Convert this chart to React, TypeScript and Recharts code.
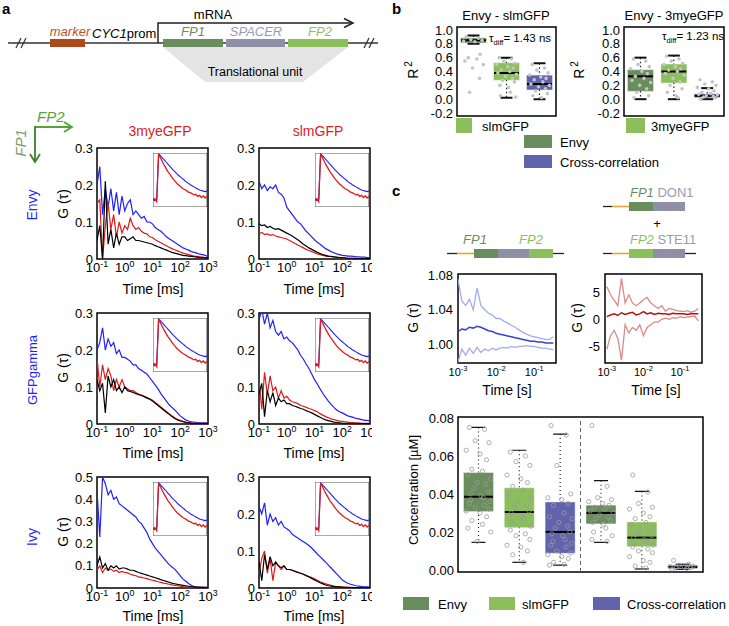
import React from 'react';
import {
  LineChart, Line, ComposedChart, Bar, Scatter, XAxis, YAxis, ReferenceArea, ReferenceLine,
} from 'recharts';

const FONT = '"Liberation Sans", Arial, Helvetica, sans-serif';

const ENVY = '#6a8d5d';
const SLM = '#8bbf5b';
const CROSS = '#6263ad';
const SPACER = '#8f8fa6';
const BLUE = '#1f1fff';
const RED = '#de1a1a';

// ---- panel a: FCS curves, x = log10(time / ms) ----
const TAU_LOG = [
  -1, -0.9, -0.8, -0.7, -0.6, -0.5, -0.4, -0.3, -0.2, -0.1,
  0, 0.1, 0.2, 0.3, 0.4, 0.5, 0.6, 0.7, 0.8, 0.9,
  1, 1.1, 1.2, 1.3, 1.4, 1.5, 1.6, 1.7, 1.8, 1.9,
  2, 2.1, 2.2, 2.3, 2.4, 2.5, 2.6, 2.7, 2.8, 2.9, 3,
];

// Envy x 3myeGFP
const ENVY_3MYE_BLUE = [0.20, 0.25, 0.12, 0.19, 0.14, 0.19, 0.13, 0.18, 0.12, 0.17, 0.13, 0.15, 0.16, 0.12, 0.13, 0.12, 0.11, 0.115, 0.10, 0.10, 0.095, 0.085, 0.08, 0.075, 0.068, 0.06, 0.055, 0.05, 0.045, 0.04, 0.035, 0.03, 0.027, 0.024, 0.02, 0.018, 0.016, 0.013, 0.012, 0.01, 0.006];
const ENVY_3MYE_RED = [0.15, 0.16, 0.0, 0.09, 0.15, 0.08, 0.12, 0.06, 0.10, 0.07, 0.09, 0.08, 0.11, 0.09, 0.08, 0.085, 0.075, 0.07, 0.068, 0.06, 0.058, 0.052, 0.048, 0.044, 0.04, 0.036, 0.032, 0.028, 0.025, 0.022, 0.019, 0.016, 0.014, 0.012, 0.01, 0.008, 0.007, 0.006, 0.005, 0.004, 0.003];
const ENVY_3MYE_BLACK = [0.05, 0.09, 0.0, 0.21, 0.04, 0.08, 0.03, 0.07, 0.04, 0.06, 0.06, 0.05, 0.055, 0.06, 0.05, 0.05, 0.048, 0.046, 0.044, 0.042, 0.04, 0.036, 0.033, 0.03, 0.027, 0.024, 0.021, 0.018, 0.016, 0.014, 0.012, 0.01, 0.009, 0.008, 0.007, 0.006, 0.005, 0.004, 0.004, 0.003, 0.003];

// Envy x slmGFP
const ENVY_SLM_BLUE = [0.21, 0.19, 0.20, 0.185, 0.195, 0.19, 0.20, 0.18, 0.175, 0.165, 0.14, 0.13, 0.12, 0.11, 0.10, 0.095, 0.085, 0.075, 0.068, 0.06, 0.052, 0.045, 0.04, 0.034, 0.028, 0.024, 0.02, 0.017, 0.014, 0.012, 0.01, 0.009, 0.008, 0.008, 0.007, 0.006, 0.006, 0.005, 0.005, 0.004, 0.004];
const ENVY_SLM_RED = [0.068, 0.072, 0.066, 0.068, 0.064, 0.066, 0.062, 0.06, 0.058, 0.056, 0.054, 0.05, 0.046, 0.042, 0.038, 0.034, 0.03, 0.026, 0.023, 0.02, 0.017, 0.014, 0.012, 0.01, 0.008, 0.007, 0.006, 0.005, 0.004, 0.003, 0.003, 0.002, 0.002, 0.002, 0.001, 0.001, 0.001, 0.001, 0.001, 0.001, 0.001];
const ENVY_SLM_BLACK = [0.095, 0.09, 0.092, 0.085, 0.088, 0.083, 0.08, 0.082, 0.078, 0.074, 0.07, 0.066, 0.062, 0.057, 0.052, 0.046, 0.04, 0.035, 0.03, 0.026, 0.022, 0.018, 0.015, 0.012, 0.01, 0.008, 0.007, 0.006, 0.005, 0.004, 0.003, 0.003, 0.002, 0.002, 0.002, 0.001, 0.001, 0.001, 0.001, 0.001, 0.001];

// GFPgamma x 3myeGFP
const GAMMA_3MYE_BLUE = [0.20, 0.22, 0.26, 0.2, 0.23, 0.21, 0.22, 0.19, 0.2, 0.18, 0.18, 0.175, 0.17, 0.16, 0.16, 0.15, 0.145, 0.14, 0.135, 0.125, 0.115, 0.105, 0.095, 0.082, 0.072, 0.062, 0.052, 0.045, 0.038, 0.03, 0.022, 0.016, 0.011, 0.008, 0.006, 0.005, 0.004, 0.003, 0.003, 0.003, 0.003];
const GAMMA_3MYE_RED = [0.18, 0.1, 0.16, 0.12, 0.15, 0.13, 0.09, 0.12, 0.1, 0.12, 0.1, 0.095, 0.09, 0.09, 0.085, 0.08, 0.078, 0.075, 0.072, 0.068, 0.064, 0.058, 0.052, 0.046, 0.04, 0.034, 0.028, 0.022, 0.017, 0.013, 0.01, 0.007, 0.005, 0.004, 0.003, 0.002, 0.002, 0.002, 0.002, 0.002, 0.002];
const GAMMA_3MYE_BLACK = [0.12, 0.09, 0.11, 0.03, 0.13, 0.1, 0.12, 0.09, 0.1, 0.085, 0.1, 0.09, 0.088, 0.085, 0.082, 0.08, 0.077, 0.074, 0.07, 0.067, 0.062, 0.056, 0.05, 0.044, 0.038, 0.032, 0.026, 0.02, 0.015, 0.011, 0.008, 0.006, 0.004, 0.003, 0.002, 0.001, 0.001, 0.001, 0.001, 0.001, 0.001];

// GFPgamma x slmGFP
const GAMMA_SLM_BLUE = [0.28, 0.31, 0.27, 0.3, 0.26, 0.28, 0.25, 0.24, 0.25, 0.23, 0.235, 0.225, 0.22, 0.21, 0.2, 0.185, 0.175, 0.162, 0.15, 0.135, 0.12, 0.108, 0.095, 0.083, 0.072, 0.062, 0.053, 0.045, 0.038, 0.033, 0.03, 0.026, 0.022, 0.02, 0.018, 0.015, 0.014, 0.012, 0.01, 0.01, 0.008];
const GAMMA_SLM_RED = [0.12, 0.04, 0.14, 0.08, 0.13, 0.09, 0.1, 0.07, 0.09, 0.07, 0.075, 0.065, 0.06, 0.058, 0.055, 0.05, 0.048, 0.045, 0.042, 0.04, 0.036, 0.033, 0.028, 0.024, 0.02, 0.017, 0.014, 0.012, 0.01, 0.008, 0.007, 0.006, 0.005, 0.004, 0.004, 0.003, 0.003, 0.002, 0.002, 0.002, 0.002];
const GAMMA_SLM_BLACK = [0.08, 0.11, 0.02, 0.09, 0.06, 0.085, 0.05, 0.07, 0.06, 0.065, 0.055, 0.055, 0.05, 0.048, 0.045, 0.042, 0.04, 0.036, 0.033, 0.03, 0.026, 0.022, 0.018, 0.014, 0.011, 0.009, 0.007, 0.005, 0.004, 0.003, 0.002, 0.002, 0.002, 0.001, 0.001, 0.001, 0.001, 0.001, 0.001, 0.001, 0.001];

// Ivy x 3myeGFP
const IVY_3MYE_BLUE = [0.44, 0.23, 0.5, 0.47, 0.42, 0.44, 0.4, 0.41, 0.38, 0.37, 0.36, 0.35, 0.34, 0.33, 0.32, 0.3, 0.29, 0.27, 0.25, 0.22, 0.2, 0.18, 0.165, 0.15, 0.135, 0.12, 0.105, 0.095, 0.085, 0.07, 0.055, 0.04, 0.03, 0.02, 0.012, 0.005, 0.004, 0.003, 0.003, 0.003, 0.003];
const IVY_3MYE_RED = [0.08, 0.1, 0.07, 0.09, 0.08, 0.085, 0.075, 0.08, 0.07, 0.075, 0.07, 0.068, 0.062, 0.058, 0.055, 0.05, 0.048, 0.045, 0.042, 0.038, 0.035, 0.032, 0.028, 0.025, 0.022, 0.02, 0.017, 0.014, 0.012, 0.01, 0.008, 0.006, 0.005, 0.004, 0.003, 0.003, 0.003, 0.003, 0.003, 0.003, 0.003];
const IVY_3MYE_BLACK = [0.1, 0.14, 0.09, 0.11, 0.08, 0.1, 0.09, 0.1, 0.085, 0.09, 0.09, 0.085, 0.08, 0.08, 0.075, 0.07, 0.066, 0.062, 0.058, 0.054, 0.05, 0.046, 0.042, 0.038, 0.034, 0.03, 0.026, 0.022, 0.019, 0.016, 0.014, 0.012, 0.01, 0.008, 0.006, 0.005, 0.004, 0.003, 0.003, 0.002, 0.002];

// Ivy x slmGFP
const IVY_SLM_BLUE = [0.22, 0.2, 0.23, 0.17, 0.2, 0.18, 0.19, 0.17, 0.18, 0.165, 0.16, 0.155, 0.145, 0.14, 0.135, 0.13, 0.125, 0.12, 0.115, 0.108, 0.1, 0.092, 0.085, 0.077, 0.07, 0.062, 0.054, 0.046, 0.038, 0.03, 0.022, 0.017, 0.013, 0.01, 0.008, 0.006, 0.005, 0.004, 0.003, 0.003, 0.003];
const IVY_SLM_RED = [0.04, 0.08, 0.1, 0.04, 0.08, 0.02, 0.07, 0.06, 0.05, 0.06, 0.05, 0.05, 0.048, 0.045, 0.043, 0.04, 0.037, 0.034, 0.031, 0.028, 0.025, 0.021, 0.017, 0.014, 0.011, 0.009, 0.007, 0.005, 0.004, 0.003, 0.003, 0.002, 0.002, 0.002, 0.001, 0.001, 0.001, 0.001, 0.001, 0.001, 0.001];
const IVY_SLM_BLACK = [0.07, 0.02, 0.09, 0.05, 0.085, 0.06, 0.07, 0.06, 0.055, 0.06, 0.05, 0.05, 0.048, 0.045, 0.042, 0.04, 0.037, 0.033, 0.03, 0.026, 0.022, 0.018, 0.014, 0.011, 0.008, 0.006, 0.005, 0.004, 0.003, 0.003, 0.002, 0.002, 0.002, 0.001, 0.001, 0.001, 0.001, 0.001, 0.001, 0.001, 0.001];

// insets: normalised lifetime decays
const INSET_T = [0, 1, 2, 3, 4, 5, 6, 7, 8, 9, 10, 11, 12, 13, 14, 15, 16, 17, 18, 19, 20, 21, 22, 23, 24, 25, 26, 27, 28, 29];
const INSET_BLUE = [0.16, 0.12, 0.15, 1.0, 0.97, 0.93, 0.89, 0.85, 0.81, 0.77, 0.73, 0.69, 0.66, 0.62, 0.59, 0.56, 0.53, 0.5, 0.47, 0.45, 0.42, 0.4, 0.38, 0.36, 0.34, 0.32, 0.31, 0.3, 0.29, 0.3];
const INSET_RED = [0.12, 0.16, 0.1, 1.0, 0.93, 0.86, 0.79, 0.73, 0.67, 0.62, 0.57, 0.52, 0.48, 0.44, 0.41, 0.38, 0.35, 0.33, 0.31, 0.28, 0.27, 0.25, 0.23, 0.24, 0.2, 0.22, 0.18, 0.21, 0.17, 0.2];

// ---- panel b: R^2 box plots ----
const B_NAMES = ['Envy', 'FP2', 'Cross-correlation'];
const B_SLM_STATS = { lo: [0.80, 0.02, 0.0], q1: [0.82, 0.28, 0.14], med: [0.85, 0.38, 0.22], q3: [0.88, 0.52, 0.34], hi: [0.92, 0.6, 0.52] };
const B_3MYE_STATS = { lo: [0.0, 0.0, 0.0], q1: [0.12, 0.24, 0.03], med: [0.33, 0.4, 0.05], q3: [0.42, 0.5, 0.07], hi: [0.6, 0.63, 0.16] };
const B_SLM_POINTS = [
  [0.9, 0.88, 0.86, 0.85, 0.84, 0.83, 0.65, 0.6, 0.58, 0.55, 0.5, 0.45, 0.3, 0.1],
  [0.6, 0.58, 0.55, 0.52, 0.5, 0.47, 0.45, 0.42, 0.4, 0.38, 0.36, 0.33, 0.3, 0.27, 0.25, 0.2, 0.17, 0.1, 0.05, 0.03],
  [0.5, 0.45, 0.42, 0.38, 0.35, 0.32, 0.3, 0.28, 0.25, 0.22, 0.2, 0.18, 0.15, 0.12, 0.08, 0.05, 0.02],
];
const B_3MYE_POINTS = [
  [0.58, 0.55, 0.5, 0.47, 0.44, 0.4, 0.37, 0.33, 0.3, 0.27, 0.24, 0.2, 0.15, 0.1, 0.05, 0.02],
  [0.62, 0.58, 0.55, 0.52, 0.5, 0.47, 0.44, 0.42, 0.4, 0.37, 0.35, 0.3, 0.25, 0.2, 0.15, 0.1, 0.05, 0.02],
  [0.28, 0.25, 0.22, 0.2, 0.17, 0.15, 0.12, 0.1, 0.08, 0.07, 0.06, 0.05, 0.04, 0.03, 0.02, 0.0],
];

// ---- panel c: FCCS curves, x = log10(time / s) ----
const C_T = [-3, -2.9, -2.8, -2.7, -2.6, -2.5, -2.4, -2.3, -2.2, -2.1, -2, -1.9, -1.8, -1.7, -1.6, -1.5, -1.4, -1.3, -1.2, -1.1, -1, -0.9, -0.8, -0.7, -0.6, -0.5];
const C_FUSION_HI = [1.075, 1.05, 1.045, 1.052, 1.04, 1.065, 1.045, 1.04, 1.036, 1.034, 1.03, 1.03, 1.027, 1.025, 1.022, 1.02, 1.017, 1.014, 1.012, 1.01, 1.009, 1.008, 1.007, 1.006, 1.006, 1.009];
const C_FUSION_MID = [1.015, 1.018, 1.017, 1.02, 1.019, 1.021, 1.02, 1.018, 1.016, 1.015, 1.013, 1.012, 1.011, 1.01, 1.009, 1.008, 1.007, 1.006, 1.005, 1.004, 1.004, 1.003, 1.003, 1.002, 1.002, 1.002];
const C_FUSION_LO = [0.98, 0.995, 0.988, 0.996, 0.99, 0.997, 0.991, 0.995, 0.993, 0.996, 0.994, 0.996, 0.997, 0.996, 0.998, 0.997, 0.998, 0.998, 0.999, 0.998, 0.998, 0.997, 0.996, 0.996, 0.995, 0.994];
const C_PAIR_HI = [6, 4.5, 3.5, 2.5, 7.5, 3, 4.5, 3, 2.5, 3, 3.6, 4, 3, 2.5, 2, 2.5, 1.5, 2, 1.8, 1.6, 1.5, 1.4, 1.6, 1.3, 1.5, 2];
const C_PAIR_MID = [0.5, 0.8, 1.0, 0.7, 1.2, 0.9, 1.1, 1.3, 0.8, 1.0, 1.4, 1.0, 1.2, 0.9, 1.1, 1.0, 1.0, 0.9, 1.1, 1.0, 1.0, 1.0, 0.9, 1.0, 1.0, 1.0];
const C_PAIR_LO = [-5.5, -3, -2, -3.5, -7.5, -1, -2.5, -1.5, -2, -1, -3, -1.5, -1, -0.5, -0.5, 0, 0.2, 0, 0.3, 0.2, 0.5, 0.3, 0.4, 0.5, 0.6, -0.3];

// concentration box plot: fusion (3 boxes) | DON1 + STE11 (3 boxes)
const CONC_NAMES = ['Envy', 'slmGFP', 'Cross', 'Envy 2', 'slmGFP 2', 'Cross 2'];
const CONC_STATS = {
  lo: [0.0145, 0.004, 0.0025, 0.0145, 0.0005, 0.0003],
  q1: [0.031, 0.0225, 0.009, 0.0245, 0.0125, 0.001],
  med: [0.0385, 0.0305, 0.020, 0.030, 0.017, 0.0015],
  q3: [0.051, 0.043, 0.0355, 0.0338, 0.025, 0.0022],
  hi: [0.075, 0.063, 0.0715, 0.047, 0.0413, 0.003],
};
const CONC_POINTS = [
  [0.075, 0.074, 0.068, 0.067, 0.063, 0.061, 0.058, 0.053, 0.052, 0.05, 0.048, 0.046, 0.045, 0.043, 0.041, 0.04, 0.039, 0.038, 0.037, 0.036, 0.035, 0.034, 0.033, 0.032, 0.031, 0.03, 0.028, 0.026, 0.024, 0.022, 0.02, 0.015],
  [0.062, 0.06, 0.057, 0.055, 0.05, 0.048, 0.046, 0.044, 0.042, 0.04, 0.038, 0.036, 0.034, 0.033, 0.031, 0.03, 0.028, 0.027, 0.025, 0.023, 0.021, 0.019, 0.018, 0.016, 0.013, 0.012, 0.01, 0.008, 0.004],
  [0.076, 0.071, 0.055, 0.04, 0.038, 0.037, 0.035, 0.034, 0.03, 0.028, 0.027, 0.025, 0.023, 0.022, 0.02, 0.019, 0.018, 0.016, 0.015, 0.014, 0.013, 0.012, 0.01, 0.009, 0.008, 0.007, 0.006, 0.004, 0.003, 0.0025],
  [0.076, 0.044, 0.038, 0.037, 0.036, 0.035, 0.034, 0.033, 0.032, 0.031, 0.03, 0.029, 0.028, 0.027, 0.026, 0.025, 0.024, 0.022, 0.02, 0.018, 0.016, 0.015],
  [0.05, 0.041, 0.035, 0.033, 0.032, 0.03, 0.028, 0.027, 0.025, 0.024, 0.022, 0.021, 0.02, 0.019, 0.018, 0.017, 0.016, 0.015, 0.014, 0.013, 0.012, 0.011, 0.01, 0.009, 0.007, 0.005, 0.004, 0.002, 0.001],
  [0.005, 0.003, 0.0025, 0.002, 0.0018, 0.0015, 0.0012, 0.001, 0.0008, 0.0005],
];

// fixed horizontal jitter (fraction of a category band) for the scatter dots
const JITTER = [-0.22, 0.15, -0.08, 0.26, -0.3, 0.04, 0.2, -0.16, 0.1, -0.26, 0.3, -0.03, 0.18, -0.12, 0.24, -0.2, 0.06, 0.12, -0.18, 0.28];

const toRows = (names: string[], s: any, colors: string[]) =>
  names.map((name, i) => ({ name, lo: s.lo[i], q1: s.q1[i], med: s.med[i], q3: s.q3[i], hi: s.hi[i], color: colors[i] }));
const toPoints = (groups: number[][]) =>
  groups.flatMap((vals, g) => vals.map((y, k) => ({ x: g + 0.5 + JITTER[k % JITTER.length], y })));

const PowTick = ({ x, y, payload, fs = 13, dy = 9 }: any) => (
  <text x={x} y={y} dy={dy} textAnchor="middle" fontSize={fs} fill="#000">
    10<tspan dy={-fs * 0.42} fontSize={fs * 0.68}>{Math.round(payload.value)}</tspan>
  </text>
);

// ---------- FCS panel (a) ----------
const PW = 111;
const PH = 111;
const YW = 34;
const MT = 6;
const MR = 14;

const Inset = () => {
  const data = INSET_T.map((t, i) => ({ t, blue: INSET_BLUE[i], red: INSET_RED[i] }));
  return (
    <LineChart width={54} height={54} data={data} margin={{ top: 0, right: 0, bottom: 0, left: 0 }} style={{ background: '#fff' }}>
      <XAxis dataKey="t" type="number" domain={[0, 29]} hide />
      <YAxis type="number" domain={[0, 1.02]} hide />
      <Line dataKey="blue" stroke={BLUE} strokeWidth={1.1} dot={false} isAnimationActive={false} />
      <Line dataKey="red" stroke={RED} strokeWidth={1.3} dot={false} isAnimationActive={false} />
      <ReferenceArea x1={0} x2={29} y1={0} y2={1.02} fill="none" stroke="#555" strokeWidth={1} ifOverflow="visible" />
    </LineChart>
  );
};

type FcsProps = { x0: number; y0: number; yMax: number; yTicks: number[]; blue: number[]; red: number[]; black: number[]; clipRight?: number };

const FcsPanel = ({ x0, y0, yMax, yTicks, blue, red, black, clipRight }: FcsProps) => {
  const data = TAU_LOG.map((t, i) => ({ t, blue: blue[i], red: red[i], black: black[i] }));
  const left = x0 - YW;
  const width = YW + PW + MR;
  const height = MT + PH + 26;
  return (
    <div style={{ position: 'absolute', left, top: y0 - MT, width: clipRight ? clipRight - left : width, height, overflow: 'hidden' }}>
      <LineChart width={width} height={height} data={data} margin={{ top: MT, right: MR, bottom: 0, left: 0 }}>
        <XAxis dataKey="t" type="number" domain={[-1, 3]} ticks={[-1, 0, 1, 2, 3]} interval={0} height={26} axisLine={false} tickLine={false} tickSize={2} tickMargin={2} tick={(p: any) => <PowTick {...p} />} allowDataOverflow />
        <YAxis type="number" domain={[0, yMax]} ticks={yTicks} interval={0} width={YW} axisLine={false} tickLine={false} tickSize={2} tickMargin={2} tick={{ fontSize: 13, fill: '#000' }} allowDataOverflow />
        <Line dataKey="blue" stroke={BLUE} strokeWidth={1.2} dot={false} isAnimationActive={false} />
        <Line dataKey="red" stroke={RED} strokeWidth={1.2} dot={false} isAnimationActive={false} />
        <Line dataKey="black" stroke="#000" strokeWidth={1.2} dot={false} isAnimationActive={false} />
        <ReferenceArea x1={-1} x2={3} y1={0} y2={yMax} fill="none" stroke="#000" strokeWidth={1.5} ifOverflow="visible" />
      </LineChart>
      <div style={{ position: 'absolute', left: YW + 56, top: MT + 5 }}>
        <Inset />
      </div>
    </div>
  );
};

// ---------- box plots (b, c) ----------
const BoxShape = (props: any) => {
  const { x, y, width, height, payload, cap, capW, dotted } = props;
  const { lo, q1, med, q3, hi, color } = payload;
  const span = hi - lo || 1;
  const py = (v: number) => y + (height * (hi - v)) / span;
  const cx = x + width / 2;
  return (
    <g>
      <line x1={cx} x2={cx} y1={py(hi)} y2={py(q3)} stroke="#222" strokeWidth={1.2} strokeDasharray={dotted} />
      <line x1={cx} x2={cx} y1={py(q1)} y2={py(lo)} stroke="#222" strokeWidth={1.2} strokeDasharray={dotted} />
      <line x1={cx - capW / 2} x2={cx + capW / 2} y1={py(hi)} y2={py(hi)} stroke="#111" strokeWidth={cap} />
      <line x1={cx - capW / 2} x2={cx + capW / 2} y1={py(lo)} y2={py(lo)} stroke="#111" strokeWidth={cap} />
      <rect x={x} y={py(q3)} width={width} height={Math.max(py(q1) - py(q3), 1)} fill={color} stroke={color} strokeOpacity={0.6} />
      <line x1={x} x2={x + width} y1={py(med)} y2={py(med)} stroke="#000" strokeWidth={2} />
    </g>
  );
};

type BoxChartProps = {
  left: number; top: number; pw: number; ph: number; yw: number;
  domain: [number, number]; ticks: number[]; digits: number;
  rows: any[]; points: { x: number; y: number }[];
  boxW: number; cap: number; capW: number; filled: boolean; divider?: number;
};

const BoxChart = ({ left, top, pw, ph, yw, domain, ticks, digits, rows, points, boxW, cap, capW, filled, divider }: BoxChartProps) => (
  <div style={{ position: 'absolute', left: left - yw, top: top - 6 }}>
    <ComposedChart width={yw + pw + 4} height={ph + 12} data={rows} margin={{ top: 6, right: 4, bottom: 6, left: 0 }}>
      <XAxis dataKey="name" hide />
      <XAxis xAxisId="j" dataKey="x" type="number" domain={[0, rows.length]} hide />
      <YAxis type="number" domain={domain} ticks={ticks} interval={0} width={yw} axisLine={false} tickLine={false} tickSize={2} tickMargin={2} tick={{ fontSize: 13, fill: '#000' }} tickFormatter={(v: number) => v.toFixed(digits)} allowDataOverflow />
      {divider !== undefined && <ReferenceLine xAxisId="j" x={divider} stroke="#666" strokeDasharray="4 3" />}
      <Bar dataKey={(d: any) => [d.lo, d.hi]} barSize={boxW} isAnimationActive={false}
        shape={(p: any) => <BoxShape {...p} cap={cap} capW={capW} dotted={filled ? '1.5 2.5' : '1 3'} />} />
      <Scatter xAxisId="j" data={points} dataKey="y" isAnimationActive={false}
        shape={(p: any) => filled
          ? <circle cx={p.cx} cy={p.cy} r={1.8} fill="#c4c4c4" />
          : <circle cx={p.cx} cy={p.cy} r={2.1} fill="none" stroke="#9a9a9a" strokeWidth={0.8} />} />
      <ReferenceArea xAxisId="j" x1={0} x2={rows.length} y1={domain[0]} y2={domain[1]} fill="none" stroke="#000" strokeWidth={1.5} ifOverflow="visible" />
    </ComposedChart>
  </div>
);

// ---------- FCCS curves (c) ----------
type CProps = { x0: number; y0: number; pw: number; yw: number; xDomain: [number, number]; yDomain: [number, number]; yTicks: number[]; digits: number; hi: number[]; mid: number[]; lo: number[]; light: string; dark: string };

const CCurve = ({ x0, y0, pw, yw, xDomain, yDomain, yTicks, digits, hi, mid, lo, light, dark }: CProps) => {
  const data = C_T.map((t, i) => ({ t, hi: hi[i], mid: mid[i], lo: lo[i] }));
  return (
    <div style={{ position: 'absolute', left: x0 - yw, top: y0 - 6 }}>
      <LineChart width={yw + pw + 8} height={89 + 6 + 20} data={data} margin={{ top: 6, right: 8, bottom: 0, left: 0 }}>
        <XAxis dataKey="t" type="number" domain={xDomain} ticks={[-3, -2, -1]} interval={0} height={20} axisLine={false} tickLine={false} tickSize={2} tickMargin={2} tick={(p: any) => <PowTick {...p} fs={11} dy={9} />} allowDataOverflow />
        <YAxis type="number" domain={yDomain} ticks={yTicks} interval={0} width={yw} axisLine={false} tickLine={false} tickSize={2} tickMargin={3} tick={{ fontSize: 13, fill: '#000' }} tickFormatter={(v: number) => v.toFixed(digits)} allowDataOverflow />
        <Line dataKey="hi" stroke={light} strokeWidth={1.3} dot={false} isAnimationActive={false} />
        <Line dataKey="lo" stroke={light} strokeWidth={1.3} dot={false} isAnimationActive={false} />
        <Line dataKey="mid" stroke={dark} strokeWidth={1.5} dot={false} isAnimationActive={false} />
        <ReferenceArea x1={xDomain[0]} x2={xDomain[1]} y1={yDomain[0]} y2={yDomain[1]} fill="none" stroke="#000" strokeWidth={1.5} ifOverflow="visible" />
      </LineChart>
    </div>
  );
};

const VText = ({ x, y, children, size = 14, fill = '#000', italic = false }: any) => (
  <text x={x} y={y} transform={`rotate(-90 ${x} ${y})`} textAnchor="middle" dominantBaseline="central" fontSize={size} fill={fill} fontStyle={italic ? 'italic' : 'normal'}>{children}</text>
);

const Overlay = () => (
  <svg width={729} height={626} style={{ position: 'absolute', left: 0, top: 0 }} fontFamily={FONT}>
    <text x={2} y={14} fontSize={15} fontWeight="bold">a</text>
    <text x={392} y={14} fontSize={15} fontWeight="bold">b</text>
    <text x={392} y={196} fontSize={15} fontWeight="bold">c</text>

    {/* construct */}
    <line x1={8} y1={43} x2={378} y2={43} stroke="#333" strokeWidth={1.5} />
    <line x1={16} y1={48} x2={21} y2={38} stroke="#333" strokeWidth={1.3} />
    <line x1={21} y1={48} x2={26} y2={38} stroke="#333" strokeWidth={1.3} />
    <line x1={364} y1={48} x2={369} y2={38} stroke="#333" strokeWidth={1.3} />
    <line x1={369} y1={48} x2={374} y2={38} stroke="#333" strokeWidth={1.3} />
    <polygon points="163,47 348,47 303,82 205,82" fill="#e4e4e4" />
    <polyline points="158,43 158,23 352,23" fill="none" stroke="#222" strokeWidth={1.5} />
    <polyline points="344,18.5 353,23 344,27.5" fill="none" stroke="#222" strokeWidth={1.5} />
    <rect x={50} y={39} width={35} height={8} fill="#ad4a1c" />
    <rect x={163} y={39} width={60} height={8} fill={ENVY} />
    <rect x={226} y={39} width={59} height={8} fill={SPACER} />
    <rect x={288} y={39} width={60} height={8} fill={SLM} />
    <text x={70} y={36} textAnchor="middle" fontSize={13} fontStyle="italic" fill="#c0521e">marker</text>
    <text x={92} y={38} fontSize={13}><tspan fontStyle="italic">CYC1</tspan>prom</text>
    <text x={213} y={19} textAnchor="middle" fontSize={13}>mRNA</text>
    <text x={193} y={36} textAnchor="middle" fontSize={13} fontStyle="italic" fill={ENVY}>FP1</text>
    <text x={256} y={36} textAnchor="middle" fontSize={13} fontStyle="italic" fill="#9a9ab6">SPACER</text>
    <text x={320} y={36} textAnchor="middle" fontSize={13} fontStyle="italic" fill={SLM}>FP2</text>
    <text x={255} y={76} textAnchor="middle" fontSize={12.5}>Translational unit</text>

    {/* FP1 / FP2 key */}
    <line x1={35} y1={127} x2={71} y2={127} stroke="#55a535" strokeWidth={1.8} />
    <polyline points="64,122 72,127 64,132" fill="none" stroke="#55a535" strokeWidth={1.8} />
    <line x1={35} y1={126} x2={35} y2={161} stroke="#3d7f2c" strokeWidth={1.8} />
    <polyline points="30,154 35,162 40,154" fill="none" stroke="#3d7f2c" strokeWidth={1.8} />
    <text x={37} y={122} fontSize={15} fontStyle="italic" fill="#55a535">FP2</text>
    <VText x={20} y={143} size={15} italic fill="#7d9c6e">FP1</VText>

    <text x={160} y={136} textAnchor="middle" fontSize={14} fill={RED}>3myeGFP</text>
    <text x={318} y={136} textAnchor="middle" fontSize={14} fill={RED}>slmGFP</text>
    <VText x={32} y={205} fill={BLUE}>Envy</VText>
    <VText x={32} y={370} size={13} fill={BLUE}>GFPgamma</VText>
    <VText x={32} y={537} fill={BLUE}>Ivy</VText>
    <VText x={63} y={204}>G (τ)</VText>
    <VText x={63} y={368}>G (τ)</VText>
    <VText x={63} y={532}>G (τ)</VText>
    {[289, 453, 616].map((y) => (
      <g key={y}>
        <text x={153} y={y} textAnchor="middle" dominantBaseline="central" fontSize={14}>Time [ms]</text>
        <text x={314} y={y} textAnchor="middle" dominantBaseline="central" fontSize={14}>Time [ms]</text>
      </g>
    ))}

    {/* panel b labels */}
    <text x={506} y={20} textAnchor="middle" fontSize={13}>Envy - slmGFP</text>
    <text x={674} y={20} textAnchor="middle" fontSize={13}>Envy - 3myeGFP</text>
    <text x={413} y={70} transform="rotate(-90 413 70)" textAnchor="middle" dominantBaseline="central" fontSize={14}>R<tspan dx={2} dy={-5} fontSize={10}>2</tspan></text>
    <text x={579} y={70} transform="rotate(-90 579 70)" textAnchor="middle" dominantBaseline="central" fontSize={14}>R<tspan dx={2} dy={-5} fontSize={10}>2</tspan></text>
    <text x={489} y={42} fontSize={11.5}>τ<tspan dy={3} fontSize={7.5}>diff</tspan><tspan dy={-3}>= 1.43 ns</tspan></text>
    <text x={662} y={40} fontSize={11.5}>τ<tspan dy={3} fontSize={7.5}>diff</tspan><tspan dy={-3}>= 1.23 ns</tspan></text>
    <rect x={456} y={118} width={16} height={15} fill={SLM} />
    <text x={482} y={126} dominantBaseline="central" fontSize={13}>slmGFP</text>
    <rect x={626} y={118} width={19} height={15} fill={SLM} />
    <text x={651} y={126} dominantBaseline="central" fontSize={13}>3myeGFP</text>
    <rect x={524} y={135} width={28} height={13} fill={ENVY} />
    <text x={560} y={142} dominantBaseline="central" fontSize={13}>Envy</text>
    <rect x={524} y={155} width={28} height={13} fill={CROSS} />
    <text x={560} y={162} dominantBaseline="central" fontSize={13}>Cross-correlation</text>

    {/* panel c constructs */}
    <line x1={603} y1={206.5} x2={612} y2={206.5} stroke="#222" strokeWidth={1.3} />
    <line x1={612} y1={206.5} x2={629} y2={206.5} stroke="#e9a532" strokeWidth={1.6} />
    <rect x={629} y={202} width={24} height={9} fill={ENVY} />
    <rect x={653} y={202} width={32} height={9} fill={SPACER} />
    <text x={630} y={197} fontSize={13}><tspan fontStyle="italic" fill={ENVY}>FP1</tspan><tspan fill="#9a9aae"> DON1</tspan></text>
    <text x={657} y={228} textAnchor="middle" fontSize={13}>+</text>
    <text x={630} y={244} fontSize={13}><tspan fontStyle="italic" fill={SLM}>FP2</tspan><tspan fill="#9a9aae"> STE11</tspan></text>
    <line x1={603} y1={253.5} x2={612} y2={253.5} stroke="#222" strokeWidth={1.3} />
    <line x1={612} y1={253.5} x2={629} y2={253.5} stroke="#e9a532" strokeWidth={1.6} />
    <rect x={629} y={249} width={24} height={9} fill={SLM} />
    <rect x={653} y={249} width={32} height={9} fill={SPACER} />
    <line x1={685} y1={253.5} x2={696} y2={253.5} stroke="#222" strokeWidth={1.3} />

    <text x={475} y={244} textAnchor="middle" fontSize={13} fontStyle="italic" fill={ENVY}>FP1</text>
    <text x={531} y={244} textAnchor="middle" fontSize={13} fontStyle="italic" fill={SLM}>FP2</text>
    <line x1={447} y1={253.5} x2={457} y2={253.5} stroke="#222" strokeWidth={1.3} />
    <line x1={457} y1={253.5} x2={474} y2={253.5} stroke="#e9a532" strokeWidth={1.6} />
    <rect x={474} y={249} width={24} height={9} fill={ENVY} />
    <rect x={498} y={249} width={31} height={9} fill={SPACER} />
    <rect x={529} y={249} width={24} height={9} fill={SLM} />
    <line x1={553} y1={253.5} x2={564} y2={253.5} stroke="#222" strokeWidth={1.3} />

    <VText x={413} y={318}>G (τ)</VText>
    <VText x={577} y={318}>G (τ)</VText>
    <text x={507} y={390} textAnchor="middle" dominantBaseline="central" fontSize={14}>Time [s]</text>
    <text x={656} y={390} textAnchor="middle" dominantBaseline="central" fontSize={14}>Time [s]</text>
    <VText x={413} y={490} size={13}>Concentration [µM]</VText>

    <rect x={403} y={597} width={26} height={13} fill={ENVY} />
    <text x={438} y={604} dominantBaseline="central" fontSize={13}>Envy</text>
    <rect x={489} y={597} width={26} height={13} fill={SLM} />
    <text x={522} y={604} dominantBaseline="central" fontSize={13}>slmGFP</text>
    <rect x={593} y={597} width={27} height={13} fill={CROSS} />
    <text x={627} y={604} dominantBaseline="central" fontSize={13}>Cross-correlation</text>
  </svg>
);

const App = () => {
  const bSlmRows = toRows(B_NAMES, B_SLM_STATS, [ENVY, SLM, CROSS]);
  const b3myeRows = toRows(B_NAMES, B_3MYE_STATS, [ENVY, SLM, CROSS]);
  const concRows = toRows(CONC_NAMES, CONC_STATS, [ENVY, SLM, CROSS, ENVY, SLM, CROSS]);
  const t3 = [0, 0.1, 0.2, 0.3];
  const t5 = [0, 0.1, 0.2, 0.3, 0.4, 0.5];
  const rTicks = [-0.2, 0, 0.2, 0.4, 0.6, 0.8, 1.0];
  return (
    <div style={{ position: 'absolute', left: 0, top: 0, width: 729, height: 626, background: '#fff', fontFamily: FONT, overflow: 'hidden' }}>
      <Overlay />
      <FcsPanel x0={97} y0={148} yMax={0.3} yTicks={t3} blue={ENVY_3MYE_BLUE} red={ENVY_3MYE_RED} black={ENVY_3MYE_BLACK} />
      <FcsPanel x0={259} y0={148} yMax={0.3} yTicks={t3} blue={ENVY_SLM_BLUE} red={ENVY_SLM_RED} black={ENVY_SLM_BLACK} clipRight={372} />
      <FcsPanel x0={97} y0={313} yMax={0.3} yTicks={t3} blue={GAMMA_3MYE_BLUE} red={GAMMA_3MYE_RED} black={GAMMA_3MYE_BLACK} />
      <FcsPanel x0={259} y0={313} yMax={0.3} yTicks={t3} blue={GAMMA_SLM_BLUE} red={GAMMA_SLM_RED} black={GAMMA_SLM_BLACK} clipRight={372} />
      <FcsPanel x0={97} y0={477} yMax={0.5} yTicks={t5} blue={IVY_3MYE_BLUE} red={IVY_3MYE_RED} black={IVY_3MYE_BLACK} />
      <FcsPanel x0={259} y0={477} yMax={0.3} yTicks={t3} blue={IVY_SLM_BLUE} red={IVY_SLM_RED} black={IVY_SLM_BLACK} clipRight={372} />

      <BoxChart left={457} top={27} pw={99} ph={89} yw={40} domain={[-0.243, 1.043]} ticks={rTicks} digits={1}
        rows={bSlmRows} points={toPoints(B_SLM_POINTS)} boxW={25} cap={2} capW={12} filled />
      <BoxChart left={624} top={27} pw={100} ph={89} yw={40} domain={[-0.243, 1.043]} ticks={rTicks} digits={1}
        rows={b3myeRows} points={toPoints(B_3MYE_POINTS)} boxW={25} cap={2} capW={12} filled />

      <CCurve x0={458} y0={274} pw={98} yw={44} xDomain={[-3, -0.43]} yDomain={[0.979, 1.081]} yTicks={[1.0, 1.04, 1.08]} digits={2}
        hi={C_FUSION_HI} mid={C_FUSION_MID} lo={C_FUSION_LO} light="#a3acf2" dark="#3641d6" />
      <CCurve x0={605} y0={274} pw={97} yw={44} xDomain={[-3.05, -0.4]} yDomain={[-8, 8.3]} yTicks={[-5, 0, 5]} digits={0}
        hi={C_PAIR_HI} mid={C_PAIR_MID} lo={C_PAIR_LO} light="#d98a8a" dark="#b01212" />

      <BoxChart left={458} top={417} pw={245} ph={155} yw={44} domain={[-0.0011, 0.0805]} ticks={[0, 0.02, 0.04, 0.06, 0.08]} digits={2}
        rows={concRows} points={toPoints(CONC_POINTS)} boxW={29} cap={1.2} capW={14} filled={false} divider={3} />
    </div>
  );
};

export default App;
